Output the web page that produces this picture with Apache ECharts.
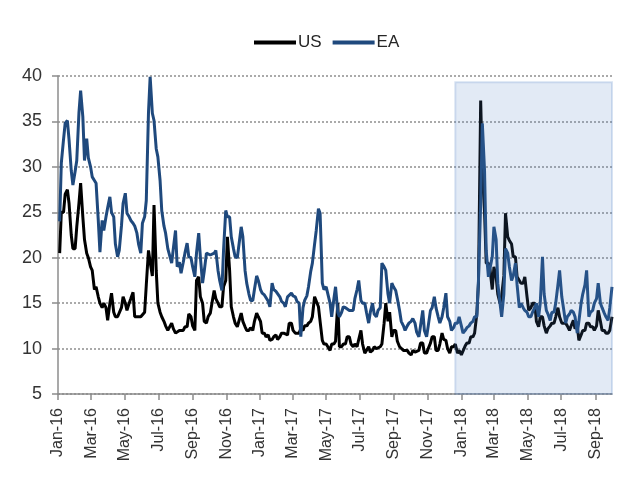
<!DOCTYPE html>
<html>
<head>
<meta charset="utf-8">
<script src="https://cdn.jsdelivr.net/npm/echarts@6/dist/echarts.min.js"></script>
<style>
  html, body { margin: 0; padding: 0; background: #fff; }
  #chart { width: 619px; height: 493px; }
</style>
</head>
<body>
<div id="chart"></div>
<script>
// two readings a week (Monday, Thursday), starting on firstWeek
const firstWeek = '2016-01-04';
const axisStart = '2016-01-01';
const axisEnd = '2018-10-01';
const shadeFrom = '2017-12-21';
const shadeTop = 39.3;
const monthNames = ['Jan', 'Feb', 'Mar', 'Apr', 'May', 'Jun', 'Jul', 'Aug', 'Sep', 'Oct', 'Nov', 'Dec'];

const us = [
    20.5, 25, 25, 27, 27.5, 26, 22.5, 21, 21, 23.4, 26, 28.2, 24.5, 22, 20.5, 20,
    19, 18.6, 16.5, 16.8, 15.7, 15, 14.5, 15, 14.5, 13.1, 15, 16.1, 14, 13.5, 13.5, 13.5,
    14.5, 15.7, 15, 14.2, 15, 15.5, 16.2, 13.5, 13.5, 13.5, 13.5, 13.5, 14, 17, 20.8, 19.5,
    18, 25.8, 18.6, 15, 14, 13.5, 13, 12.5, 12, 12, 12.8, 12.2, 11.7, 11.8, 12, 12,
    12, 12.4, 12.4, 13.8, 13.5, 12.5, 12, 17.5, 17.9, 15.7, 15, 13, 12.8, 13.5, 13.9, 15,
    16.4, 15.5, 15, 14.6, 14.6, 16.8, 17.5, 22.3, 18.6, 14.6, 13.5, 12.8, 12.4, 12.6, 13.9, 13,
    12.4, 12, 12, 12.3, 12, 13, 13.9, 13.5, 13, 11.7, 11.7, 11.3, 11.5, 10.9, 11, 11.3,
    11.5, 11, 11.3, 11.7, 11.7, 11.5, 11.5, 12.8, 12.8, 12, 11.7, 11.5, 11.7, 12.2, 12, 12.5,
    12.5, 12.8, 13, 13.5, 15.7, 15.5, 14.6, 13, 10.9, 10.5, 10.5, 10.2, 9.8, 10.5, 10.5, 10.8,
    15, 10.2, 10.2, 10.5, 10.5, 11.3, 11.3, 10.5, 10.2, 10.5, 10.2, 11, 12, 10.5, 9.5, 9.8,
    10.2, 9.6, 9.8, 10.2, 10, 10.2, 10.2, 10.5, 12.8, 15, 13, 14, 11.3, 12, 12, 10.8,
    10.2, 10.2, 9.8, 9.6, 9.8, 9.5, 9.3, 9.8, 9.6, 9.8, 9.8, 10.6, 10.6, 9.5, 9.5, 10,
    10.6, 11.3, 11.3, 9.8, 9.8, 10.5, 11.7, 11, 10.9, 10, 9.5, 10.2, 10.2, 10.5, 9.5, 9.8,
    9.3, 9.1, 10.3, 10.6, 10.6, 11.3, 11.3, 11.7, 13.8, 17.2, 37.3, 29.6, 25, 19.4, 19.4, 18.7,
    16.5, 19, 17.9, 16, 15, 15.8, 18, 24.9, 22.3, 21.9, 21.5, 20.1, 20.1, 17.9, 17.5, 17.2,
    17.2, 17.9, 15.7, 14.2, 14.5, 15, 15, 13, 12.4, 13.5, 13.5, 12.5, 11.7, 12.2, 12.5, 12.8,
    12.8, 13.5, 14.5, 13.5, 12.8, 13, 12.8, 12.5, 12, 12.5, 13.1, 12.2, 12.5, 10.9, 11.5, 12,
    12, 12.8, 12.8, 12.4, 12.4, 12, 12.5, 14.2, 13, 12, 12, 11.7, 11.7, 12, 13.5
];

const ea = [
    24, 30.4, 33, 34.8, 35.1, 33, 29.6, 28, 29.5, 30.7, 36, 38.4, 35.5, 30.7, 33.1, 31,
    30, 28.9, 28.5, 28.2, 24.1, 20.6, 24.1, 23, 24.5, 25.5, 26.7, 25, 24.5, 21.5, 20.1, 20.8,
    23.5, 26, 27.1, 24.9, 24.5, 24.1, 23.8, 23.5, 22.7, 21.5, 20.5, 23.8, 24.5, 26.3, 36, 39.9,
    35.9, 35.1, 32, 31.1, 28.5, 25.2, 23.5, 22.7, 21, 20.8, 19.4, 21, 23, 19, 19.5, 18.3,
    19.5, 20.5, 21.6, 20.1, 20, 19, 17.9, 20.5, 22.7, 20.1, 17.2, 18.5, 20.5, 20.5, 20.3, 20.1,
    20.5, 20.8, 18.6, 17.5, 16.4, 20.8, 25.2, 24.5, 24.5, 22.3, 21, 20.1, 20, 20.1, 23.4, 22.3,
    18.6, 17.2, 16, 15.3, 15.3, 16.5, 18, 17.5, 16.5, 16.1, 15.9, 15.7, 15.2, 14.6, 17.2, 16.5,
    16.3, 16.1, 15.7, 15.2, 15, 14.6, 15.7, 15.5, 16.1, 15.8, 15.7, 15.2, 15, 11.3, 14.5, 15.3,
    15.8, 16.8, 18.5, 19.4, 21.5, 23, 25.4, 24.9, 17.2, 16.5, 16.8, 16.8, 15, 13.5, 15.5, 16.8,
    14, 13.5, 14, 14.6, 14.5, 14.6, 14.2, 14.3, 14.2, 15.5, 16.5, 17.5, 15.3, 15, 15, 14,
    12.8, 14, 15, 13.8, 13.5, 14.2, 14.5, 19.4, 19, 18.6, 16, 15, 17.2, 16.8, 16.4, 15.5,
    14.2, 13, 12.5, 12, 12.5, 12.8, 13, 13.3, 12.8, 11.8, 11.3, 12.5, 14.2, 12, 11.3, 12.5,
    14.2, 14.5, 15.7, 14.5, 13.5, 12.8, 13.5, 14.5, 16.1, 13.5, 13, 12, 12.3, 12.8, 12.8, 13.5,
    12.5, 11.7, 12, 12.3, 12.5, 12.8, 13, 13.5, 13.5, 17.5, 26, 34.8, 29.6, 20.8, 17.9, 18,
    20.1, 23.4, 22, 17.2, 15, 13.5, 16, 21, 20.5, 19, 17.5, 18, 19.4, 17, 14.5, 15,
    14.5, 14.2, 14, 13.5, 13.5, 14, 14.5, 15, 13.5, 15, 20.1, 16, 14.2, 13.8, 13.1, 14,
    14, 15, 17, 18.6, 15.7, 14.5, 12.8, 13.5, 13.8, 14.2, 14, 13.5, 11.7, 13, 15, 16,
    17, 18.6, 13.5, 14, 14.2, 15, 15.5, 17.2, 15, 14.5, 13.9, 13.5, 13.1, 14.5, 16.8
];

const DAY = 864e5;
const iso = t => new Date(t).toISOString().slice(0, 10);

// one category per calendar day so the ticks sit on the 1st of each month
const days = [];
for (let t = Date.parse(axisStart); t <= Date.parse(axisEnd); t += DAY) {
    days.push(iso(t));
}

function onDays(values) {
    const t0 = Date.parse(firstWeek);
    const m = {};
    values.forEach((v, k) => {
        const offset = Math.floor(k / 2) * 7 + (k % 2 ? 3 : 0);
        m[iso(t0 + offset * DAY)] = v;
    });
    return days.map(d => (d in m ? m[d] : null));
}

function isTick(index, value) {
    return value.slice(8) === '01' && Number(value.slice(5, 7)) % 2 === 1;
}

function fmtDate(value) {
    return monthNames[Number(value.slice(5, 7)) - 1] + '-' + value.slice(2, 4);
}

const font = 'Liberation Sans, Arial, sans-serif';
const axisGrey = '#8c8c8c';

const chart = echarts.init(document.getElementById('chart'));

chart.setOption({
    animation: false,
    legend: {
        data: ['US', 'EA'],
        icon: 'rect',
        left: 249,
        top: 29,
        itemWidth: 42,
        itemHeight: 4,
        itemGap: 11,
        textStyle: { fontSize: 17, color: '#262626', fontFamily: font, padding: [0, 0, 0, -3] }
    },
    grid: { left: 58, right: 7, top: 76, bottom: 99 },
    xAxis: {
        type: 'category',
        data: days,
        boundaryGap: false,
        axisLine: { lineStyle: { color: axisGrey, width: 1.5 } },
        axisTick: { interval: isTick, length: 6, lineStyle: { color: axisGrey, width: 1.5 } },
        axisLabel: {
            interval: isTick,
            rotate: 90,
            margin: 14,
            fontSize: 16,
            color: '#333',
            fontFamily: font,
            formatter: fmtDate
        },
        splitLine: { show: false }
    },
    yAxis: {
        type: 'value',
        min: 5,
        max: 40,
        interval: 5,
        axisLine: { show: true, lineStyle: { color: axisGrey, width: 1.5 } },
        axisTick: { show: true, length: 6, lineStyle: { color: axisGrey, width: 1.5 } },
        axisLabel: { fontSize: 18, color: '#333', margin: 16, fontFamily: font },
        splitLine: { lineStyle: { color: '#8f8f8f', type: [2, 2], width: 1.5 } }
    },
    series: [
        {
            name: 'US',
            type: 'line',
            data: onDays(us),
            connectNulls: true,
            showSymbol: false,
            symbol: 'none',
            color: '#000000',
            lineStyle: { width: 3, color: '#000000' },
            z: 2
        },
        {
            name: 'EA',
            type: 'line',
            data: onDays(ea),
            connectNulls: true,
            showSymbol: false,
            symbol: 'none',
            color: '#1f497d',
            lineStyle: { width: 3, color: '#1f497d' },
            z: 3,
            markArea: {
                silent: true,
                z: 10,
                itemStyle: {
                    color: 'rgba(79,127,194,0.165)',
                    borderColor: 'rgba(79,127,194,0.22)',
                    borderWidth: 2
                },
                data: [[
                    { xAxis: shadeFrom, yAxis: 5 },
                    { xAxis: axisEnd, yAxis: shadeTop }
                ]]
            }
        }
    ]
});
</script>
</body>
</html>
